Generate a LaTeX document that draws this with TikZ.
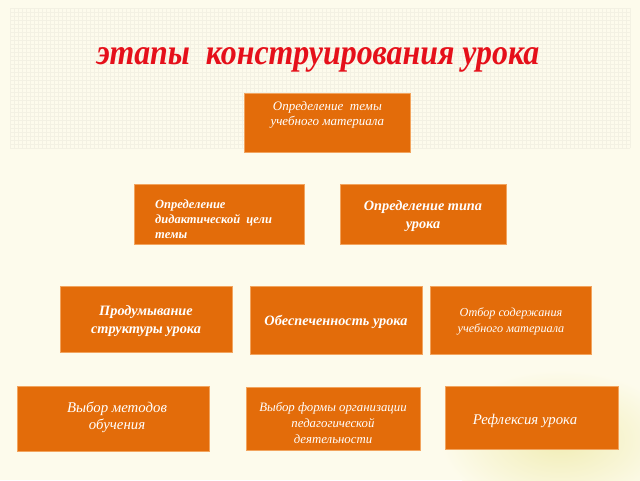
\documentclass[tikz,border=0pt]{standalone}
\usepackage{fontspec}
\setmainfont{Liberation Serif}
\definecolor{bgc}{HTML}{FDFBEC}
\definecolor{gridc}{HTML}{F3F1E3}
\definecolor{tintc}{HTML}{F1EDB5}
\definecolor{boxor}{HTML}{E36C0A}
\definecolor{boxedge}{HTML}{F2A45E}
\definecolor{titlered}{HTML}{E5101A}
\tikzset{
  stepbox/.style={fill=boxor, draw=boxedge, line width=0.7pt, inner sep=0pt, anchor=north west},
  boxtext/.style={text=white, align=center, inner sep=0pt, font=\fontsize{14.8}{17}\selectfont\itshape},
  smalltext/.style={boxtext, font=\fontsize{12.8}{16}\selectfont\itshape},
  boldtext/.style={boxtext, font=\fontsize{14.3}{18}\selectfont\bfseries\itshape}
}
\begin{document}
\begin{tikzpicture}[x=1pt,y=-1pt]
\useasboundingbox (0,0) rectangle (640,480);
\fill[bgc] (0,0) rectangle (640,480);
\shade[inner color=tintc, outer color=bgc] (560,440) ellipse (120 and 70);
\foreach \i in {0,...,155} { \draw[gridc, line width=0.3pt] (10+4*\i,8) -- (10+4*\i,148); }
\foreach \j in {0,...,35} { \draw[gridc, line width=0.3pt] (10,8+4*\j) -- (630,8+4*\j); }

\node[font=\fontsize{36}{40}\selectfont\bfseries\itshape, text=titlered, anchor=base, inner sep=0pt] (title) at (318,64) {\scalebox{0.885}[1]{этапы\ \ конструирования урока}};

\node[stepbox, minimum width=166pt, minimum height=59pt] (b1) at (244,93) {};
\node[stepbox, minimum width=170pt, minimum height=60pt] (b2) at (134,184) {};
\node[stepbox, minimum width=166pt, minimum height=60pt] (b3) at (340,184) {};
\node[stepbox, minimum width=172pt, minimum height=66pt] (b4) at (60,286) {};
\node[stepbox, minimum width=172pt, minimum height=68pt] (b5) at (250,286) {};
\node[stepbox, minimum width=161pt, minimum height=68pt] (b6) at (430,286) {};
\node[stepbox, minimum width=192pt, minimum height=65pt] (b7) at (17,386) {};
\node[stepbox, minimum width=174pt, minimum height=63pt] (b8) at (246,387) {};
\node[stepbox, minimum width=173pt, minimum height=63pt] (b9) at (445,386) {};

\node[smalltext, font=\fontsize{13}{15}\selectfont\itshape] (t1) at ([yshift=8pt]b1.center) {Определение\ \ темы\\учебного материала};
\node[boldtext, align=left, anchor=west, font=\fontsize{12.5}{15}\selectfont\bfseries\itshape] (t2) at (155,219) {Определение\\дидактической\ \ цели\\темы};
\node[boldtext] (t3) at (423,216) {Определение типа\\урока};
\node[boldtext] (t4) at (146,321) {Продумывание\\структуры урока};
\node[boldtext] (t5) at (336,322) {Обеспеченность урока};
\node[smalltext, font=\fontsize{12.2}{16}\selectfont\itshape] (t6) at (511,321) {Отбор содержания\\учебного материала};
\node[boxtext] (t7) at (117,417) {Выбор методов\\обучения};
\node[smalltext] (t8) at (333,423) {Выбор формы организации\\педагогической\\деятельности};
\node[boxtext] (t9) at (525,421) {Рефлексия урока};
\end{tikzpicture}
\end{document}
